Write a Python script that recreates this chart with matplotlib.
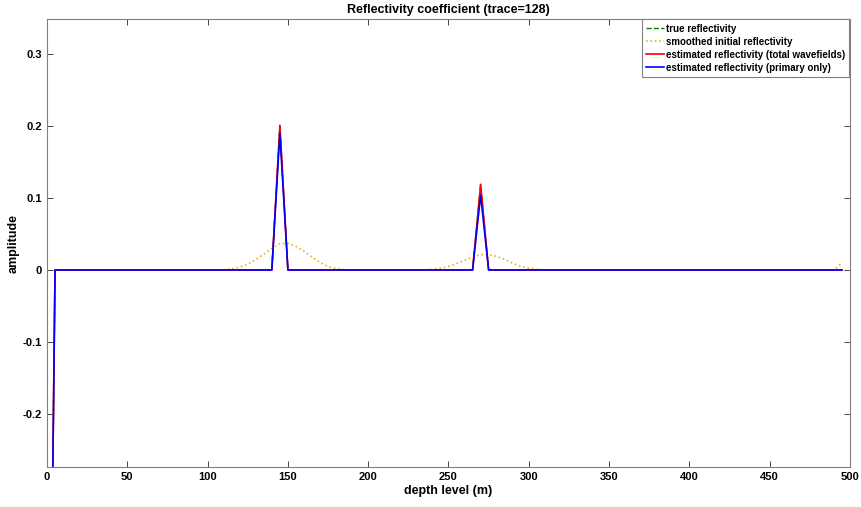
import matplotlib
matplotlib.use("Agg")
import matplotlib.pyplot as plt
import numpy as np

plt.rcParams["font.family"] = ["Liberation Sans", "DejaVu Sans"]
plt.rcParams["font.weight"] = "bold"

# depth levels, sampled every 5 m
depth = np.arange(0, 500, 5)

# spikes: {depth: value}
true_spikes = {0: -1.0, 145: 0.20, 270: 0.118}
total_spikes = {0: -1.0, 145: 0.201, 270: 0.119}
primary_spikes = {0: -1.0, 145: 0.19, 270: 0.104}

# smoothed initial model, read point by point
smooth_pts = {
    0: -1.0,
    110: 0.0005, 115: 0.0015, 120: 0.004, 125: 0.008, 130: 0.0145,
    135: 0.022, 140: 0.030, 145: 0.0365, 150: 0.037, 155: 0.033,
    160: 0.026, 165: 0.018, 170: 0.0105, 175: 0.005, 180: 0.002,
    185: 0.0005,
    235: 0.0003, 240: 0.001, 245: 0.0025, 250: 0.005, 255: 0.009,
    260: 0.0135, 265: 0.018, 270: 0.0215, 275: 0.0215, 280: 0.019,
    285: 0.0145, 290: 0.0095, 295: 0.005, 300: 0.0025, 305: 0.001,
    310: 0.0003,
    495: 0.010,
}


def series(pts):
    return np.array([pts.get(d, 0.0) for d in depth])


true_r = series(true_spikes)
smooth_r = series(smooth_pts)
total_r = series(total_spikes)
primary_r = series(primary_spikes)

fig = plt.figure(figsize=(8.61, 5.07), dpi=100)
ax = fig.add_axes([0.0546, 0.0789, 0.9326, 0.8836])

ax.plot(depth, true_r, "--", color=(0, 0.5, 0), lw=1, label="true reflectivity")
ax.plot(depth, smooth_r, ":", color=(0.93, 0.69, 0.13), lw=1.2,
        label="smoothed initial reflectivity")
ax.plot(depth, total_r, "-", color="red", lw=1.2,
        label="estimated reflectivity (total wavefields)")
ax.plot(depth, primary_r, "-", color="blue", lw=1.2,
        label="estimated reflectivity (primary only)")

ax.set_xlim(0, 500)
ax.set_ylim(-0.2736, 0.3486)
ax.set_xticks(np.arange(0, 501, 50))
ax.set_yticks([-0.2, -0.1, 0, 0.1, 0.2, 0.3])
ax.set_yticklabels(["-0.2", "-0.1", "0", "0.1", "0.2", "0.3"])

ax.tick_params(direction="in", top=True, right=True, labelsize=8,
               length=4, width=0.6, color="#262626")
for s in ax.spines.values():
    s.set_color("#808080")
    s.set_linewidth(0.8)

ax.set_xlabel("depth level (m)", fontsize=9, fontweight="bold", labelpad=2)
ax.set_ylabel("amplitude", fontsize=9, fontweight="bold", labelpad=2)
ax.set_title("Reflectivity coefficient (trace=128)", fontsize=9,
             fontweight="bold", pad=4)

leg = ax.legend(loc="upper right", fontsize=7, handlelength=1.85,
                handletextpad=0.15, borderpad=0.45, labelspacing=0.3,
                fancybox=False, framealpha=1, borderaxespad=0.05)
leg.get_frame().set_edgecolor("#808080")
leg.get_frame().set_linewidth(0.8)
for t in leg.get_texts():
    t.set_fontweight("bold")

fig.savefig("out.png", dpi=100)
